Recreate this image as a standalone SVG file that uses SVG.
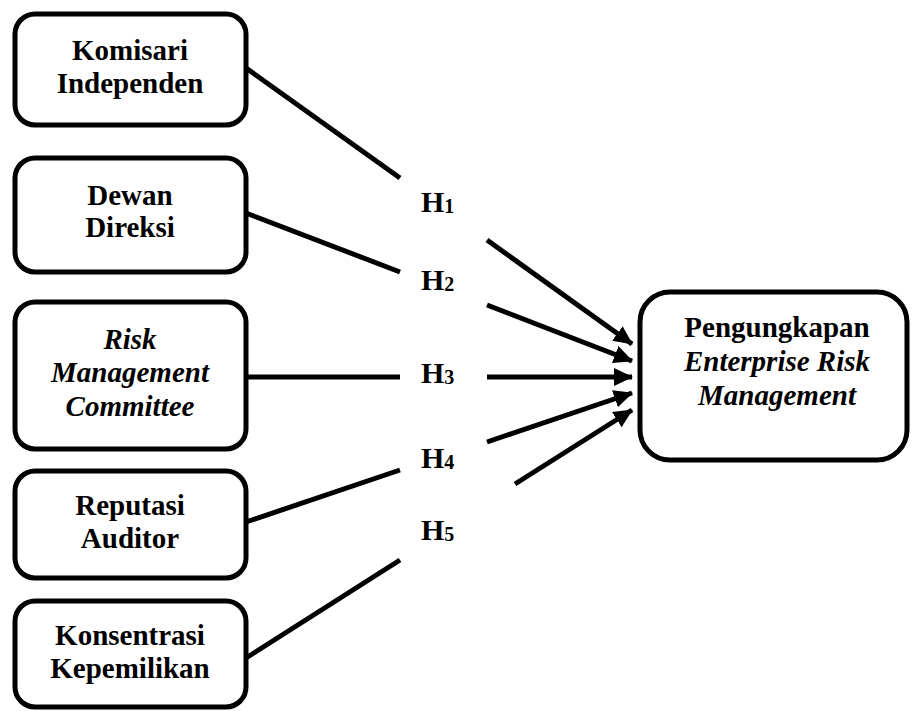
<svg xmlns="http://www.w3.org/2000/svg" width="912" height="711" viewBox="0 0 912 711">
<style>
.box{fill:#fff;stroke:#000;stroke-width:5}
.t{font-family:"Liberation Serif","Times New Roman",serif;font-weight:bold;font-size:29px;fill:#000;text-anchor:middle}
.i{font-style:italic}
.h{font-family:"Liberation Serif","Times New Roman",serif;font-weight:bold;font-size:30px;fill:#000}
.sub{font-size:20px}
.c{stroke:#000;stroke-width:5;fill:none}
</style>
<defs>
<marker id="ah" markerUnits="userSpaceOnUse" markerWidth="22" markerHeight="20" refX="18" refY="9" orient="auto">
<path d="M0,0 L19,9 L0,18 Z" fill="#000"/>
</marker>
</defs>
<g id="connectors">
<line class="c" x1="246" y1="68" x2="400" y2="178"/>
<line class="c" x1="487" y1="240" x2="632" y2="344" marker-end="url(#ah)"/>
<line class="c" x1="246" y1="213" x2="400" y2="272"/>
<line class="c" x1="487" y1="305" x2="632" y2="361" marker-end="url(#ah)"/>
<line class="c" x1="246" y1="377" x2="400" y2="377"/>
<line class="c" x1="487" y1="377" x2="632" y2="377" marker-end="url(#ah)"/>
<line class="c" x1="246" y1="522" x2="400" y2="470"/>
<line class="c" x1="487" y1="442" x2="632" y2="393" marker-end="url(#ah)"/>
<line class="c" x1="246" y1="658" x2="400" y2="560"/>
<line class="c" x1="515" y1="484" x2="632" y2="410" marker-end="url(#ah)"/>
</g>
<g id="labels">
<text class="h" x="421" y="212">H<tspan class="sub" dy="1">1</tspan></text>
<text class="h" x="421" y="290">H<tspan class="sub" dy="1">2</tspan></text>
<text class="h" x="421" y="383">H<tspan class="sub" dy="1">3</tspan></text>
<text class="h" x="421" y="468">H<tspan class="sub" dy="1">4</tspan></text>
<text class="h" x="421" y="540">H<tspan class="sub" dy="1">5</tspan></text>
</g>
<g id="n1">
<rect class="box" x="15" y="14" width="231" height="111" rx="20"/>
<text class="t" x="130" y="60">Komisari</text>
<text class="t" x="130" y="93">Independen</text>
</g>
<g id="n2">
<rect class="box" x="15" y="158" width="231" height="114" rx="20"/>
<text class="t" x="130" y="205">Dewan</text>
<text class="t" x="130" y="237">Direksi</text>
</g>
<g id="n3">
<rect class="box" x="15" y="302" width="231" height="147" rx="20"/>
<text class="t i" x="130" y="349">Risk</text>
<text class="t i" x="130" y="382">Management</text>
<text class="t i" x="130" y="416">Committee</text>
</g>
<g id="n4">
<rect class="box" x="15" y="471" width="231" height="107" rx="20"/>
<text class="t" x="130" y="515">Reputasi</text>
<text class="t" x="130" y="548">Auditor</text>
</g>
<g id="n5">
<rect class="box" x="15" y="601" width="231" height="106" rx="20"/>
<text class="t" x="130" y="645">Konsentrasi</text>
<text class="t" x="130" y="678">Kepemilikan</text>
</g>
<g id="n6">
<rect class="box" x="640" y="292" width="267" height="168" rx="30"/>
<text class="t" x="777" y="337">Pengungkapan</text>
<text class="t i" x="777" y="371">Enterprise Risk</text>
<text class="t i" x="777" y="405">Management</text>
</g>
</svg>
